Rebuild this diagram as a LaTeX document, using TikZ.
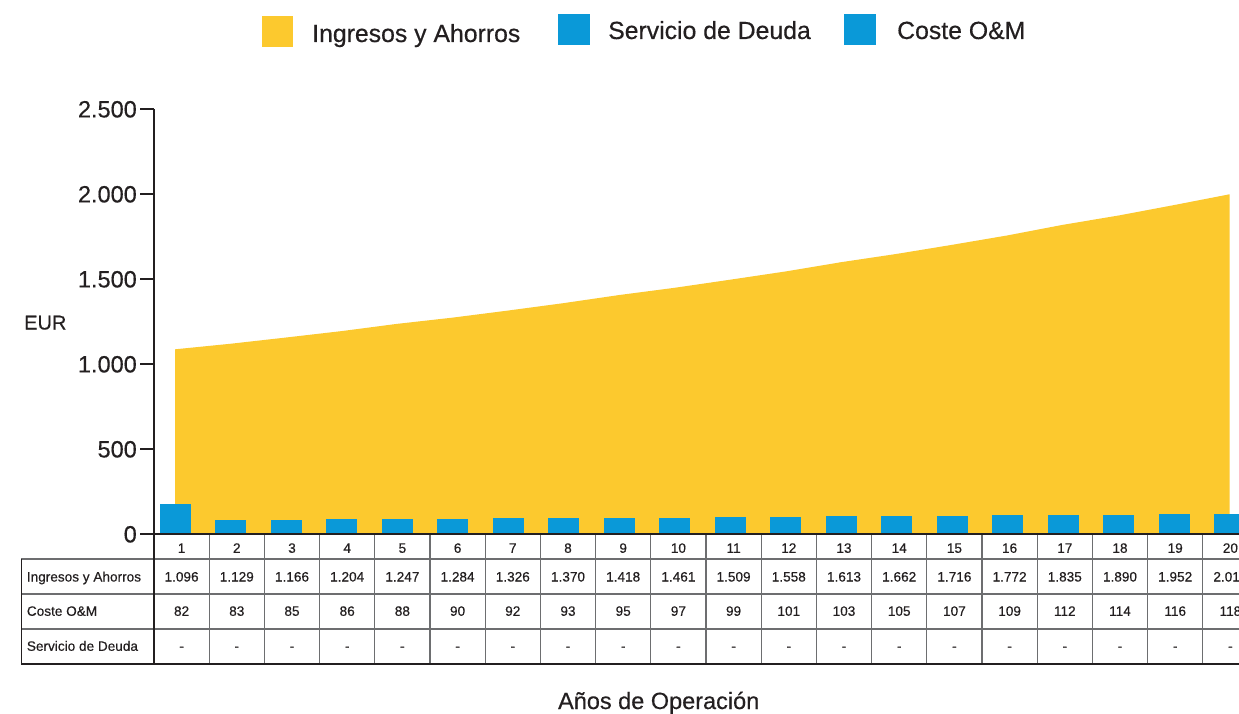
\documentclass[tikz,border=0pt]{standalone}
\usepackage{fontspec}
\setmainfont{Liberation Sans}[FakeBold=0.4]
\definecolor{ylw}{HTML}{FCC92E}
\definecolor{blu}{HTML}{0A99D8}
\definecolor{txt}{HTML}{231F20}
\definecolor{gridc}{HTML}{6D6E70}
\tikzset{
  tab/.style={inner sep=0pt, text=txt, font=\fontsize{13.6}{14}\selectfont, anchor=base},
  tabl/.style={tab, anchor=base west},
  ticklab/.style={inner sep=0pt, text=txt, font=\fontsize{23.5}{25}\selectfont, anchor=base east},
  legtxt/.style={inner sep=0pt, text=txt, font=\fontsize{24.8}{26}\selectfont, anchor=base west},
  axisline/.style={draw=txt, line width=1.3pt},
  gridline/.style={draw=gridc, line width=1.3pt},
  bar/.style={fill=blu}
}
\begin{document}
\begin{tikzpicture}[x=1pt,y=-1pt]
\clip (0,0) rectangle (1239,714);
\fill[white] (0,0) rectangle (1239,714);
% legend
\fill[ylw] (262,16) rectangle (293,47);
\node[legtxt] (l1) at (312,42) {Ingresos y Ahorros};
\fill[blu] (558,14) rectangle (590,45);
\node[legtxt] (l2) at (608,39) {Servicio de Deuda};
\fill[blu] (844,14) rectangle (876,45);
\node[legtxt] (l3) at (897,39) {Coste O\&M};
% area
\fill[ylw] (175,534)
  \foreach \v [count=\k] in {1096,1129,1166,1204,1247,1284,1326,1370,1418,1461,1509,1558,1613,1662,1716,1772,1835,1890,1952,2016}
  { -- ({175+(\k-1)*55.5},{534-\v*0.1685}) } -- (1229.5,534) -- cycle;
% bars
\foreach \v [count=\k] in {176,83,85,86,88,90,92,93,95,97,99,101,103,105,107,109,112,114,116,118}
  \fill[bar] ({175+(\k-1)*55.5-15.5},534) rectangle ++(31,{-\v*0.17});
% y axis
\draw[axisline] (154,109) -- (154,664);
\foreach \v [count=\i] in {0,500,1000,1500,2000,2500}{
  \draw[axisline] (140,{534-\v*0.17}) -- (154,{534-\v*0.17});
}
\node[ticklab] (t0) at (137,{534+8.4}) {0};
\node[ticklab] (t1) at (137,{534-85+8.4}) {500};
\node[ticklab] (t2) at (137,{534-170+8.4}) {1.000};
\node[ticklab] (t3) at (137,{534-255+8.4}) {1.500};
\node[ticklab] (t4) at (137,{534-340+8.4}) {2.000};
\node[ticklab] (t5) at (137,{534-425+8.4}) {2.500};
\node[inner sep=0pt, text=txt, font=\fontsize{20}{22}\selectfont, anchor=base west] (eur) at (24,329.5) {EUR};
% table lines
\foreach \k in {1,...,19} \draw[gridline] ({154+\k*55.2},534) -- ({154+\k*55.2},664);
\draw[gridline] (21.3,559) -- (1239,559);
\draw[gridline] (21.3,594) -- (1239,594);
\draw[gridline] (21.3,629) -- (1239,629);
\draw[axisline] (140,534) -- (1239,534);
\draw[axisline] (21.3,664) -- (1239,664);
\draw[axisline] (21.3,559) -- (21.3,664);
\draw[axisline] (154,534) -- (154,664);
% table text
\foreach \k in {1,...,20} \node[tab] (h\k) at ({154+(\k-0.5)*55.2},552.8) {\k};
\foreach \v [count=\k] in {1.096,1.129,1.166,1.204,1.247,1.284,1.326,1.370,1.418,1.461,1.509,1.558,1.613,1.662,1.716,1.772,1.835,1.890,1.952,2.016}
  \node[tab] (r1c\k) at ({154+(\k-0.5)*55.2},581.5) {\v};
\foreach \v [count=\k] in {82,83,85,86,88,90,92,93,95,97,99,101,103,105,107,109,112,114,116,118}
  \node[tab] (r2c\k) at ({154+(\k-0.5)*55.2},615.8) {\v};
\foreach \k in {1,...,20} \node[tab] (r3c\k) at ({154+(\k-0.5)*55.2},650.8) {-};
\node[tabl] (lab1) at (26.7,581.5) {Ingresos y Ahorros};
\node[tabl] (lab2) at (26.7,615.8) {Coste O\&M};
\node[tabl] (lab3) at (26.7,650.8) {Servicio de Deuda};
\node[inner sep=0pt, text=txt, font=\fontsize{23.5}{25}\selectfont, anchor=base] (xlab) at (658.7,709) {Años de Operación};
\end{tikzpicture}
\end{document}
